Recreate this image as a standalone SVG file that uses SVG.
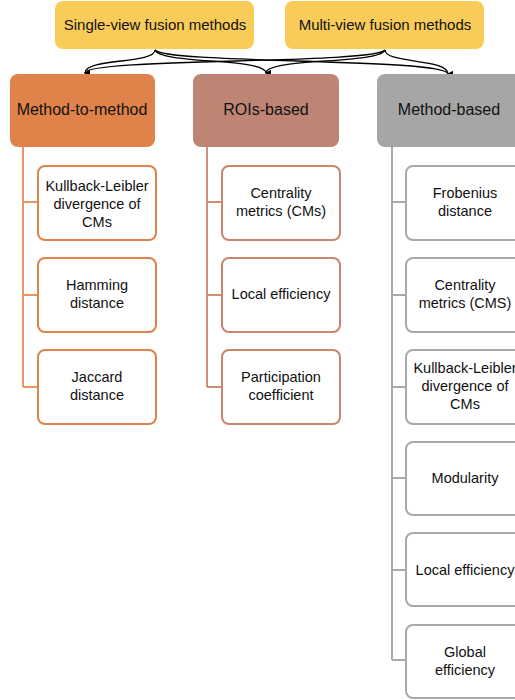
<svg xmlns="http://www.w3.org/2000/svg" width="515" height="700" viewBox="0 0 515 700">
<defs>
<style>
text{font-family:"Liberation Sans",Arial,sans-serif;fill:#111;text-anchor:middle}
.top{fill:#F9CC5A}
.t1{font-size:15px}
.t2{font-size:16px}
.t3{font-size:14.5px}
.c{fill:#fff;stroke-width:2}
.o{stroke:#E0834A}
.b{stroke:#C9856E}
.g{stroke:#A8A8A8}
.conn{fill:none;stroke:#000;stroke-width:1.3}
.tree{fill:none;stroke-width:2}
</style>
<marker id="ah" viewBox="0 0 6 6" refX="3" refY="5" markerWidth="6" markerHeight="6" orient="auto" markerUnits="userSpaceOnUse">
<path d="M0,0 L6,0 L3,6 Z" fill="#000"/>
</marker>
</defs>
<rect width="515" height="700" fill="#fff"/>
<g id="single">
<rect class="top" x="55" y="1" width="199" height="48" rx="8"/>
<text class="t1" x="155" y="30">Single-view fusion methods</text>
</g>
<g id="multi">
<rect class="top" x="285" y="1" width="199" height="48" rx="8"/>
<text class="t1" x="385" y="30">Multi-view fusion methods</text>
</g>
<g id="connectors">
<path class="conn" marker-end="url(#ah)" d="M155,50 C155,64 85,58 85,73"/>
<path class="conn" marker-end="url(#ah)" d="M155,50 C160,64 266,58 266,73"/>
<path class="conn" marker-end="url(#ah)" d="M155,50 C165,64 448,58 448,74"/>
<path class="conn" marker-end="url(#ah)" d="M385,50 C375,64 85,58 85,73"/>
<path class="conn" marker-end="url(#ah)" d="M385,50 C380,64 266,58 266,73"/>
<path class="conn" marker-end="url(#ah)" d="M385,50 C385,64 448,58 448,74"/>
<path class="tree" stroke="#E8955E" d="M23,147 V387 M23,202 H38 M23,295 H38 M23,387 H38"/>
<path class="tree" stroke="#CF8F77" d="M207,147 V387 M207,202 H222 M207,295 H222 M207,387 H222"/>
<path class="tree" stroke="#A8A8A8" d="M392,147 V660 M392,202 H406 M392,295 H406 M392,387 H406 M392,478 H406 M392,570 H406 M392,660 H406"/>
</g>
<g id="m2m">
<rect x="10" y="74" width="145" height="73" rx="8" fill="#E0834A"/>
<text class="t2" x="82" y="115">Method-to-method</text>
</g>
<g id="rois">
<rect x="193" y="74" width="146" height="73" rx="8" fill="#BE8575"/>
<text class="t2" x="266" y="115">ROIs-based</text>
</g>
<g id="mbased">
<rect x="377" y="74" width="150" height="73" rx="8" fill="#A6A6A6"/>
<text class="t2" x="449" y="115">Method-based</text>
</g>
<g id="c1a"><rect class="c o" x="38" y="166" width="118" height="74" rx="7"/>
<text class="t3" x="97" y="191">Kullback-Leibler</text><text class="t3" x="97" y="209">divergence of</text><text class="t3" x="97" y="227">CMs</text></g>
<g id="c1b"><rect class="c o" x="38" y="258" width="118" height="74" rx="7"/>
<text class="t3" x="97" y="290">Hamming</text><text class="t3" x="97" y="308">distance</text></g>
<g id="c1c"><rect class="c o" x="38" y="350" width="118" height="74" rx="7"/>
<text class="t3" x="97" y="382">Jaccard</text><text class="t3" x="97" y="400">distance</text></g>
<g id="c2a"><rect class="c b" x="222" y="166" width="118" height="74" rx="7"/>
<text class="t3" x="281" y="198">Centrality</text><text class="t3" x="281" y="216">metrics (CMs)</text></g>
<g id="c2b"><rect class="c b" x="222" y="258" width="118" height="74" rx="7"/>
<text class="t3" x="281" y="299">Local efficiency</text></g>
<g id="c2c"><rect class="c b" x="222" y="350" width="118" height="74" rx="7"/>
<text class="t3" x="281" y="382">Participation</text><text class="t3" x="281" y="400">coefficient</text></g>
<g id="c3a"><rect class="c g" x="406" y="166" width="118" height="74" rx="7"/>
<text class="t3" x="465" y="198">Frobenius</text><text class="t3" x="465" y="216">distance</text></g>
<g id="c3b"><rect class="c g" x="406" y="258" width="118" height="74" rx="7"/>
<text class="t3" x="465" y="290">Centrality</text><text class="t3" x="465" y="308">metrics (CMS)</text></g>
<g id="c3c"><rect class="c g" x="406" y="350" width="118" height="74" rx="7"/>
<text class="t3" x="465" y="373">Kullback-Leibler</text><text class="t3" x="465" y="391">divergence of</text><text class="t3" x="465" y="409">CMs</text></g>
<g id="c3d"><rect class="c g" x="406" y="442" width="118" height="73" rx="7"/>
<text class="t3" x="465" y="483">Modularity</text></g>
<g id="c3e"><rect class="c g" x="406" y="533" width="118" height="73" rx="7"/>
<text class="t3" x="465" y="575">Local efficiency</text></g>
<g id="c3f"><rect class="c g" x="406" y="625" width="118" height="73" rx="7"/>
<text class="t3" x="465" y="657">Global</text><text class="t3" x="465" y="675">efficiency</text></g>
</svg>
